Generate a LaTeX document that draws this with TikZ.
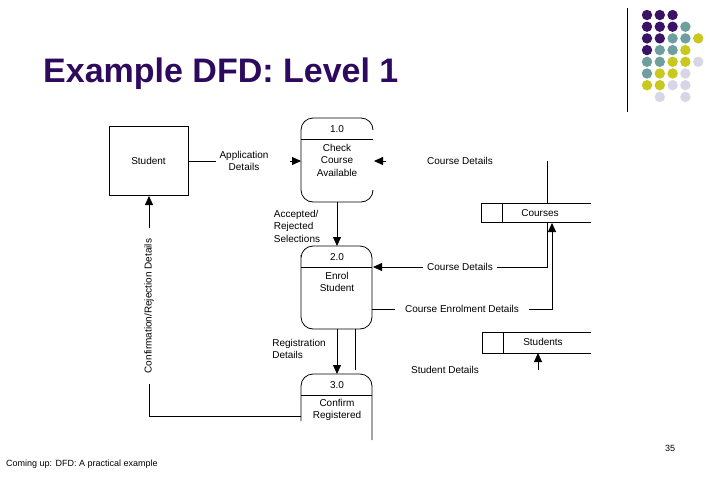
\documentclass[tikz,border=0pt]{standalone}
\usepackage{fontspec}
\setmainfont{Liberation Sans}
\usetikzlibrary{arrows.meta}
\definecolor{ttl}{HTML}{2E0A5E}
\definecolor{dP}{HTML}{3A1366}
\definecolor{dT}{HTML}{6E9E9E}
\definecolor{dY}{HTML}{C8C81E}
\definecolor{dL}{HTML}{D6D6E6}
\begin{document}
\begin{tikzpicture}[x=1pt,y=-1pt,
  every node/.style={font=\fontsize{10}{12.5}\selectfont,align=center,inner sep=1pt},
  ln/.style={line width=0.8pt},
  ar/.style={ln,-{Triangle[length=9pt,width=8pt]}},
  proc/.style={ln,rounded corners=12pt}]
\useasboundingbox (0,0) rectangle (720,480);
% decoration
\draw[line width=0.8pt] (627,8) -- (627,112);
\def\mydot#1#2#3{\fill[#3] (647+12.8*#1,15+11.7*#2) circle (5.2);}
\mydot00{dP}\mydot10{dP}\mydot20{dP}
\mydot01{dP}\mydot11{dP}\mydot21{dP}\mydot31{dT}
\mydot02{dP}\mydot12{dP}\mydot22{dT}\mydot32{dT}\mydot42{dY}
\mydot03{dP}\mydot13{dT}\mydot23{dT}\mydot33{dY}
\mydot04{dT}\mydot14{dT}\mydot24{dY}\mydot34{dY}\mydot44{dL}
\mydot05{dT}\mydot15{dY}\mydot25{dY}\mydot35{dL}
\mydot06{dY}\mydot16{dY}\mydot26{dL}\mydot36{dL}
\mydot17{dL}\mydot37{dL}
\node[anchor=west,text=ttl,font=\fontsize{34}{40}\bfseries\selectfont] (title) at (42,74) {Example DFD: Level 1};
\node[anchor=west,font=\fontsize{9}{11}\selectfont] (foot) at (5,464) {Coming up: DFD: A practical example};
\node[font=\fontsize{9}{11}\selectfont] (pg) at (670,448) {35};
% student
\node[draw,ln,minimum width=79pt,minimum height=69pt] (stu) at (148.5,160.5) {Student};
% processes
\draw[proc] (373,130) -- (373,118) -- (301,118) -- (301,202) -- (373,202) -- (373,190);
\draw[ln] (301,139) -- (373,139);
\node (p1n) at (337,129) {1.0};
\node (p1) at (337,160) {Check\\Course\\Available};
\draw[proc] (301,267) -- (301,246) -- (372,246) -- (372,329) -- (301,329) -- cycle;
\draw[ln] (301,267) -- (372,267);
\node (p2n) at (337,257) {2.0};
\node (p2) at (337,282) {Enrol\\Student};
\draw[proc] (301,421) -- (301,374) -- (372,374) -- (372,440);
\draw[ln] (301,395) -- (372,395);
\node (p3n) at (337,385) {3.0};
\node (p3) at (337,410) {Confirm\\Registered};
% stores
\draw[ln] (591,203) -- (481,203) -- (481,222) -- (591,222);
\draw[ln] (502,203) -- (502,222);
\node (courses) at (540,213) {Courses};
\draw[ln] (591,332) -- (482,332) -- (482,353) -- (591,353);
\draw[ln] (503,332) -- (503,353);
\node (students) at (543,342) {Students};
% flows
\draw[ln] (188,161) -- (216,161);
\node (l1) at (244,161) {Application\\Details};
\coordinate (a1) at (290,161);
\draw[ar] (a1) -- (301,161);
\node (l2) at (460,161) {Course Details};
\coordinate (a2) at (386,161);
\draw[ar] (a2) -- (374,161);
\draw[ln] (547,161) -- (547,203);
\draw[ar] (337,202) -- (337,246);
\node[align=left] (l3) at (297,226) {Accepted/\\Rejected\\Selections};
\draw[ln] (547,222) -- (547,267) -- (497,267);
\node (l4) at (460,267) {Course Details};
\draw[ar] (423,267) -- (373,267);
\draw[ln] (372,309) -- (395,309);
\node (l5) at (462,309) {Course Enrolment Details};
\draw[ar] (529,309) -- (552,309) -- (552,223);
\draw[ar] (538,370) -- (538,353);
\node (l6) at (445,370) {Student Details};
\draw[ar] (337,329) -- (337,374);
\draw[ln] (355,329) -- (355,370);
\node[align=left] (l7) at (299,349) {Registration\\Details};
\draw[ln] (301,416) -- (149,416) -- (149,384);
\node[rotate=90] (l8) at (149,306) {Confirmation/Rejection Details};
\draw[ar] (149,228) -- (149,196);
\end{tikzpicture}
\end{document}
